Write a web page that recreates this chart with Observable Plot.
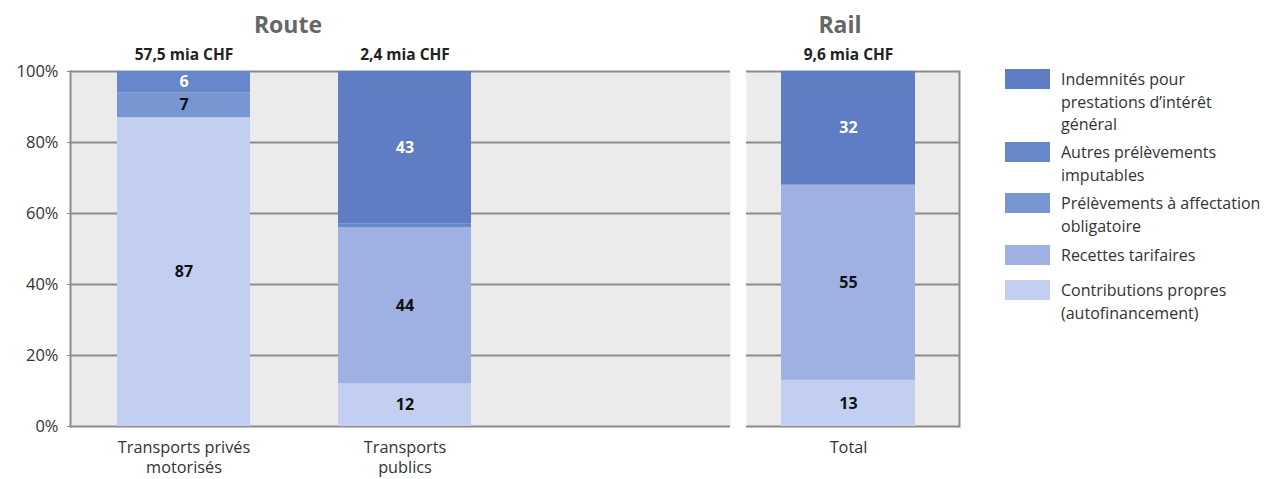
<!DOCTYPE html>
<html><head><meta charset="utf-8">
<script src="https://cdn.jsdelivr.net/npm/d3@7"></script>
<script src="https://cdn.jsdelivr.net/npm/@observablehq/plot@0.6"></script>
<style>
body{margin:0;background:#fff;font-family:"Open Sans",sans-serif;}
#wrap{position:relative;width:1269px;height:479px;overflow:hidden;background:#fff;}
.abs{position:absolute;}
.title{font-weight:bold;font-size:23px;color:#666;transform:translate(-50%,-50%);white-space:nowrap;}
.sw{position:absolute;width:45px;height:20px;}
.lt{position:absolute;font-size:16px;line-height:22.5px;color:#333;white-space:nowrap;}
svg{position:absolute;top:0;}
</style></head><body><div id="wrap"></div>
<script>
// Series (bottom to top in the stack)
const categories = [
  "Contributions propres (autofinancement)",
  "Recettes tarifaires",
  "Prélèvements à affectation obligatoire",
  "Autres prélèvements imputables",
  "Indemnités pour prestations d’intérêt général"
];
const legendLines = [
  ["Contributions propres", "(autofinancement)"],
  ["Recettes tarifaires"],
  ["Prélèvements à affectation", "obligatoire"],
  ["Autres prélèvements", "imputables"],
  ["Indemnités pour", "prestations d’intérêt", "général"]
];
const colors = ["#c2cff0", "#9fb1e3", "#7897d2", "#6687c9", "#5e7dc5"];
const darkSeries = ["Autres prélèvements imputables", "Indemnités pour prestations d’intérêt général"];

const routeBars = ["Transports privés motorisés", "Transports publics"];
const routeTickLabels = ["Transports privés\nmotorisés", "Transports\npublics"];
const routeTotals = ["57,5 mia CHF", "2,4 mia CHF"];
const valuesTPM = [87, 0, 7, 6, 0];
const valuesTP = [12, 44, 0, 1, 43];

const railBars = ["Total"];
const railTickLabels = ["Total"];
const railTotals = ["9,6 mia CHF"];
const valuesRail = [13, 55, 0, 0, 32];

const yTicks = [0, 20, 40, 60, 80, 100];
const panelTitles = ["Route", "Rail"];

function rows(bar, vals) { return categories.map((c, i) => ({bar, cat: c, value: vals[i]})); }
const routeRows = [...rows(routeBars[0], valuesTPM), ...rows(routeBars[1], valuesTP)];
const railRows = rows(railBars[0], valuesRail);

const GRID = "#8c8c8c";
const style = {fontFamily: "'Open Sans', sans-serif", fontSize: "16px", color: "#333", background: "transparent", overflow: "visible"};

function barMarks(data, bars, totals) {
  const common = {x: "bar", y: "value", z: "cat", order: categories};
  return [
    Plot.barY(data, {...common, fill: "cat"}),
    Plot.text(data, Plot.stackY({...common, text: d => (d.value >= 5 && darkSeries.includes(d.cat)) ? d.value : "", fill: "white", fontWeight: "bold", fontSize: 16})),
    Plot.text(data, Plot.stackY({...common, text: d => (d.value >= 5 && !darkSeries.includes(d.cat)) ? d.value : "", fill: "#111", fontWeight: "bold", fontSize: 16})),
    Plot.text(bars, {x: d => d, y: 100, text: (d, i) => totals[i], dy: -16, fill: "#222", fontWeight: "bold", fontSize: 15.5})
  ];
}

const left = Plot.plot({
  width: 735, height: 479, marginLeft: 70, marginRight: 5, marginTop: 71, marginBottom: 53,
  style,
  x: {domain: routeBars, range: [116, 472], paddingInner: 0.396, paddingOuter: 0, axis: null},
  y: {domain: [0, 100], axis: null},
  color: {domain: categories, range: colors},
  marks: [
    Plot.frame({fill: "#ebebeb", stroke: null}),
    Plot.ruleY(yTicks, {stroke: GRID, strokeWidth: 2}),
    Plot.frame({anchor: "left", stroke: GRID, strokeWidth: 2}),
    ...barMarks(routeRows, routeBars, routeTotals),
    Plot.axisY(yTicks, {label: null, tickFormat: d => d + "%", tickSize: 3, tickPadding: 9, stroke: GRID, fill: "#333", fontSize: 16.5}),
    Plot.axisX({label: null, tickSize: 0, tickPadding: 12, tickFormat: d => routeTickLabels[routeBars.indexOf(d)], fill: "#333", fontSize: 16.3, lineHeight: 1.25})
  ]
});
left.style.left = "0px";

const right = Plot.plot({
  width: 225, height: 479, marginLeft: 6, marginRight: 6, marginTop: 71, marginBottom: 53,
  style,
  x: {domain: railBars, range: [41, 175], paddingInner: 0, paddingOuter: 0, axis: null},
  y: {domain: [0, 100], axis: null},
  color: {domain: categories, range: colors},
  marks: [
    Plot.frame({fill: "#ebebeb", stroke: null}),
    Plot.ruleY(yTicks, {stroke: GRID, strokeWidth: 2}),
    Plot.frame({anchor: "right", stroke: GRID, strokeWidth: 2}),
    ...barMarks(railRows, railBars, railTotals),
    Plot.axisX({label: null, tickSize: 0, tickPadding: 12, tickFormat: d => railTickLabels[railBars.indexOf(d)], fill: "#333", fontSize: 16.3, lineHeight: 1.25})
  ]
});
right.style.left = "740px";

const wrap = document.getElementById("wrap");
wrap.appendChild(left);
wrap.appendChild(right);

// Panel titles
const titlePos = [[288, 24], [840, 24]];
panelTitles.forEach((t, i) => {
  const d = document.createElement("div");
  d.className = "abs title";
  d.style.left = titlePos[i][0] + "px";
  d.style.top = titlePos[i][1] + "px";
  d.textContent = t;
  wrap.appendChild(d);
});

// Legend (top to bottom: reverse stack order)
const legendTops = [280, 245, 193, 142, 69];
categories.forEach((c, i) => {
  const s = document.createElement("div");
  s.className = "sw";
  s.style.left = "1005px";
  s.style.top = legendTops[i] + "px";
  s.style.background = colors[i];
  wrap.appendChild(s);
  const t = document.createElement("div");
  t.className = "lt";
  t.style.left = "1061px";
  t.style.top = (legendTops[i] - 1) + "px";
  t.innerHTML = legendLines[i].join("<br>");
  wrap.appendChild(t);
});
</script>
</body></html>
